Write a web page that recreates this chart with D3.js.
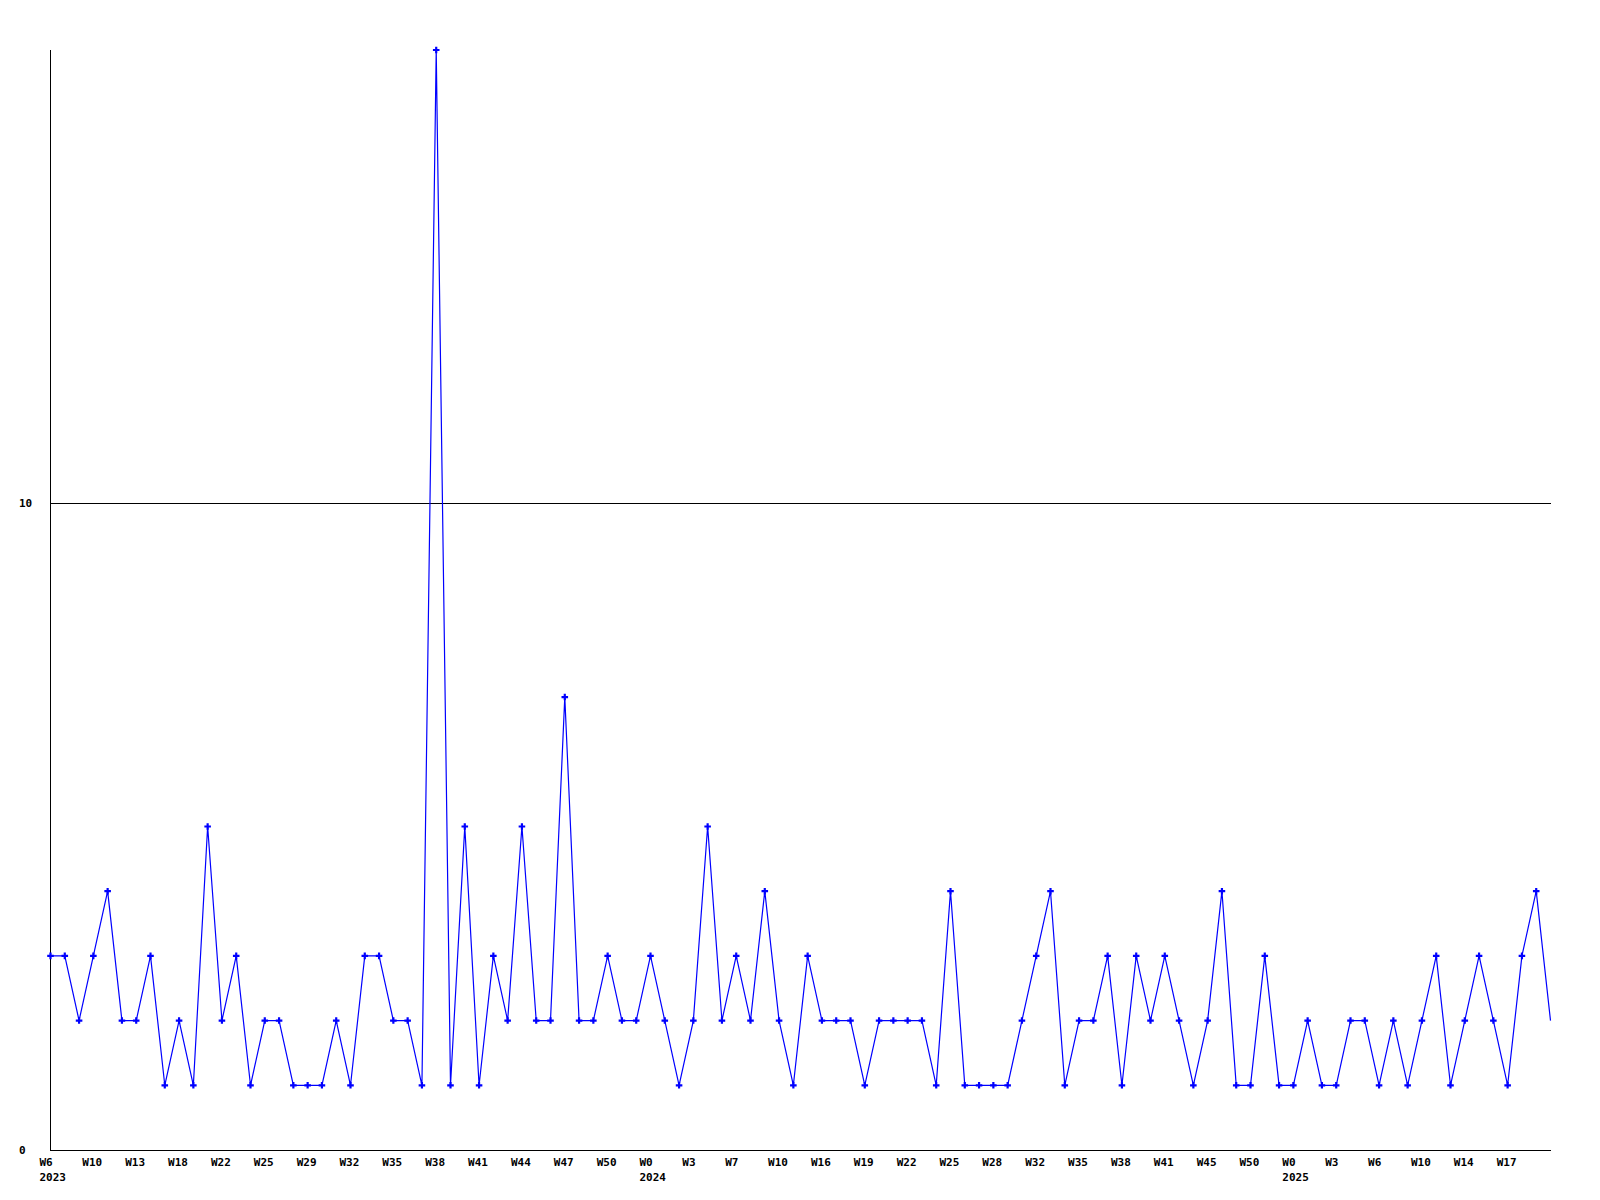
<!DOCTYPE html>
<html>
<head>
<meta charset="utf-8">
<script src="https://cdn.jsdelivr.net/npm/d3@7"></script>
<style>
  html, body { margin: 0; padding: 0; background: #fff; }
  svg { display: block; }
  text { font-family: "DejaVu Sans Mono", "Liberation Mono", monospace; font-weight: bold; font-size: 11px; fill: #000; }
</style>
</head>
<body>
<svg id="chart" width="1600" height="1200"></svg>
<script>
// Weekly values (106 points)
const values = [
  3,3,2,3,4,2,2,3,1,2,1,5,2,3,1,2,2,1,1,1,2,1,3,3,2,2,1,17,1,5,
  1,3,2,5,2,2,7,2,2,3,2,2,3,2,1,2,5,2,3,2,4,2,1,3,2,2,2,1,2,2,
  2,2,1,4,1,1,1,1,2,3,4,1,2,2,3,1,3,2,3,2,1,2,4,1,1,3,1,1,2,1,
  1,2,2,1,2,1,2,3,1,2,3,2,1,3,4,2
];
// X tick labels, one every 3 points
const weekLabels = ["W6","W10","W13","W18","W22","W25","W29","W32","W35","W38","W41","W44","W47","W50",
  "W0","W3","W7","W10","W16","W19","W22","W25","W28","W32","W35","W38","W41","W45","W50",
  "W0","W3","W6","W10","W14","W17"];
const labelStep = 3;
// Year labels: label index where each year starts
const yearLabelIdx = [0, 14, 29];
const yearLabels = ["2023","2024","2025"];
const yTicks = [0, 10];
const yMax = 17;

(function () {
const svg = d3.select("#chart");
const mLeft = 50.5, mRight = 1550.5, mTop = 50, mBottom = 1150;

const x = d3.scaleLinear().domain([0, values.length - 1]).range([mLeft, mRight]);
const y = d3.scaleLinear().domain([0, yMax]).range([mBottom, mTop]);

const g = svg.append("g");
g.selectAll("line.grid").data(yTicks.filter(d => d > 0)).enter().append("line")
  .attr("x1", mLeft).attr("x2", mRight)
  .attr("y1", d => Math.round(y(d)) + 0.5).attr("y2", d => Math.round(y(d)) + 0.5)
  .attr("stroke", "#000").attr("stroke-width", 1).attr("shape-rendering", "crispEdges");

g.append("line").attr("x1", mLeft).attr("x2", mLeft).attr("y1", mTop).attr("y2", mBottom + 0.5)
  .attr("stroke", "#000").attr("shape-rendering", "crispEdges");
g.append("line").attr("x1", mLeft).attr("x2", mRight).attr("y1", mBottom + 0.5).attr("y2", mBottom + 0.5)
  .attr("stroke", "#000").attr("shape-rendering", "crispEdges");

g.selectAll("text.yt").data(yTicks).enter().append("text")
  .attr("x", 19).attr("y", d => y(d)).attr("dy", "0.35em")
  .text(d => d);

g.selectAll("text.xt").data(weekLabels).enter().append("text")
  .attr("x", (d, i) => x(i * labelStep) - 11).attr("y", 1162).attr("dy", "0.35em")
  .text(d => d);

g.selectAll("text.yr").data(yearLabels).enter().append("text")
  .attr("x", (d, i) => x(yearLabelIdx[i] * labelStep) - 11).attr("y", 1177).attr("dy", "0.35em")
  .text(d => d);

const line = d3.line().x((d, i) => x(i)).y(d => y(d));
svg.append("path").datum(values).attr("d", line)
  .attr("fill", "none").attr("stroke", "#0000ff").attr("stroke-width", 1.2);

const sym = d3.symbol().type(d3.symbolCross).size(24);
svg.selectAll("path.m").data(values.slice(0, -1)).enter().append("path")
  .attr("transform", (d, i) => `translate(${x(i)},${y(d)})`)
  .attr("d", sym).attr("fill", "#0000ff");
})();
</script>
</body>
</html>
